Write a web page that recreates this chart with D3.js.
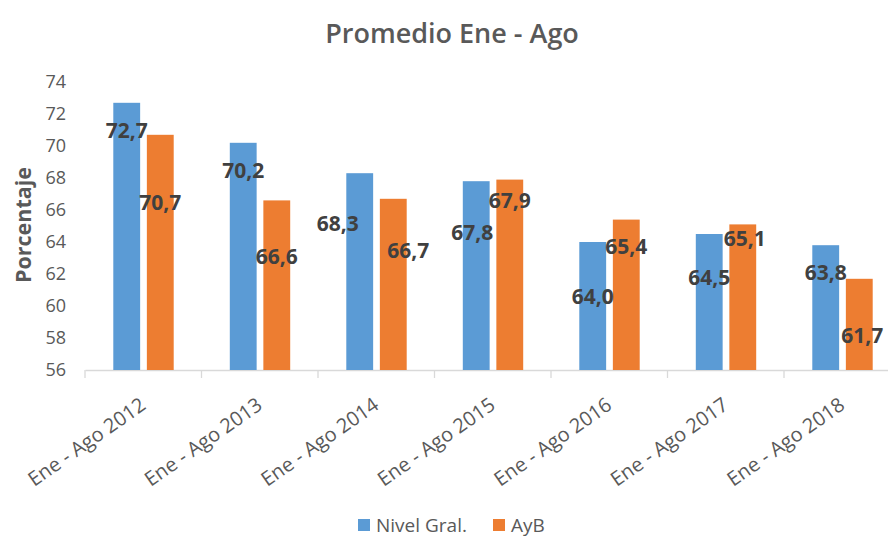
<!DOCTYPE html>
<html><head><meta charset="utf-8">
<script src="https://cdn.jsdelivr.net/npm/d3@7"></script>
<style>body{margin:0;background:#fff;overflow:hidden}</style>
</head><body><svg id="c" width="888" height="537"></svg>
<script>
const categories = ["Ene - Ago 2012","Ene - Ago 2013","Ene - Ago 2014","Ene - Ago 2015","Ene - Ago 2016","Ene - Ago 2017","Ene - Ago 2018"];
const nivelGral = [72.7,70.2,68.3,67.8,64.0,64.5,63.8];
const ayb = [70.7,66.6,66.7,67.9,65.4,65.1,61.7];
const seriesNames = ["Nivel Gral.","AyB"];
const yTicks = [56,58,60,62,64,66,68,70,72,74];
// label anchor positions (value units), as placed in the reference
const nivelLabelAt = [71.0,68.5,65.2,64.6,60.6,61.8,62.1];
const aybLabelAt = [66.5,63.1,63.5,66.6,63.75,64.25,58.2];
const nivelLabelDx = [0,0,-22,-4,0,0,0];
const aybLabelDx = [0,0,15,0,0,2,3];

const colors = ["#5B9BD5","#ED7D31"];
const svg = d3.select("#c");
const font = "'Open Sans', sans-serif";
const gray = "#595959";

const x = d3.scaleBand().domain(categories).range([85, 900.5]).paddingInner(0).paddingOuter(0);
const xi = d3.scaleBand().domain(seriesNames).range([28.3, 88.7]).paddingInner(0.2).paddingOuter(0);
const y = d3.scaleLinear().domain([56,74]).range([370, 82]);

// title
svg.append("text").attr("x", 452).attr("y", 32).attr("text-anchor","middle")
  .attr("dominant-baseline","central").attr("font-family",font).attr("font-weight",600)
  .attr("font-size",27).attr("fill",gray).text("Promedio Ene - Ago");

// y axis title
svg.append("text").attr("transform","translate(22,225) rotate(-90)").attr("text-anchor","middle")
  .attr("dominant-baseline","central").attr("font-family",font).attr("font-weight",700)
  .attr("font-size",21.5).attr("fill",gray).text("Porcentaje");

// y axis ticks (no line)
const ya = svg.append("g").attr("transform","translate(85,0)")
  .call(d3.axisLeft(y).tickValues(yTicks).tickSize(0).tickPadding(19).tickFormat(d3.format("d")));
ya.select(".domain").remove();
ya.selectAll("text").attr("font-family",font).attr("font-size",18).attr("fill",gray);

// x axis
const xa = svg.append("g").attr("transform","translate(0,370)")
  .call(d3.axisBottom(x).tickSize(0).tickPadding(0));
xa.select(".domain").attr("stroke","#d9d9d9").attr("stroke-width",1.3);
xa.selectAll(".tick line").remove();
const bounds = categories.map(c => x(c)).concat([x(categories[categories.length-1]) + x.bandwidth()]);
xa.selectAll(".sep").data(bounds).join("line").attr("class","sep")
  .attr("x1", d=>d).attr("x2", d=>d).attr("y1",0).attr("y2",8)
  .attr("stroke","#d9d9d9").attr("stroke-width",1.3);
xa.selectAll(".tick text").attr("font-family",font).attr("font-size",20).attr("fill",gray)
  .attr("text-anchor","end").attr("dy",0)
  .attr("transform","translate(4,38) rotate(-35)");

// bars
const data = [nivelGral, ayb];
const labelAt = [nivelLabelAt, aybLabelAt];
const labelDx = [nivelLabelDx, aybLabelDx];
seriesNames.forEach((s, si) => {
  svg.append("g").selectAll("rect").data(data[si]).join("rect")
    .attr("x", (d,i) => x(categories[i]) + xi(s))
    .attr("width", xi.bandwidth())
    .attr("y", d => y(d))
    .attr("height", d => y(56) - y(d))
    .attr("fill", colors[si]);
});
seriesNames.forEach((s, si) => {
  svg.append("g").selectAll("text").data(data[si]).join("text")
    .attr("x", (d,i) => x(categories[i]) + xi(s) + xi.bandwidth()/2 + labelDx[si][i])
    .attr("y", (d,i) => y(labelAt[si][i]))
    .attr("text-anchor","middle").attr("dominant-baseline","central")
    .attr("font-family",font).attr("font-weight",700).attr("font-size",21).attr("fill","#404040")
    .text(d => d3.format(".1f")(d).replace(".", ","));
});

// legend
const leg = svg.append("g");
const legX = [358, 493];
seriesNames.forEach((s, si) => {
  leg.append("rect").attr("x", legX[si]).attr("y", 519).attr("width",12).attr("height",12).attr("fill",colors[si]);
  leg.append("text").attr("x", legX[si]+18).attr("y", 525).attr("dominant-baseline","central")
    .attr("font-family",font).attr("font-size",19).attr("fill",gray).text(s);
});
</script></body></html>
